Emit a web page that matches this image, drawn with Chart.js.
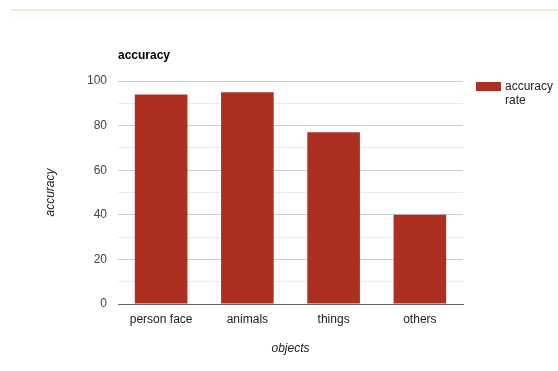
<!DOCTYPE html>
<html>
<head>
<meta charset="utf-8">
<script src="https://cdn.jsdelivr.net/npm/chart.js@4.4.1/dist/chart.umd.min.js"></script>
<style>
  html, body { margin: 0; padding: 0; background: #fff; }
  #wrap { position: relative; width: 558px; height: 371px; }
  #band { position: absolute; left: 11px; right: 0; top: 9px; height: 2px; background: #f3e9da; }
  #haze { position: absolute; left: 11px; right: 0; top: 11px; height: 12px;
          background: linear-gradient(#fcfaf5, #ffffff); }
  canvas { position: absolute; left: 0; top: 0; }
</style>
</head>
<body>
<div id="wrap">
  <div id="band"></div>
  <div id="haze"></div>
  <canvas id="c" width="558" height="371"></canvas>
</div>
<script>
const categories = ['person face', 'animals', 'things', 'others'];
const accuracyRate = [94, 95, 77, 40];
const yTicks = [0, 20, 40, 60, 80, 100];

const chartTitle = 'accuracy';
const seriesLabel = 'accuracy rate';
const barColor = '#ad2f22';
const FONT = '"Liberation Sans", Arial, sans-serif';

// Left-aligned chart title over the plot area
const titlePlugin = {
  id: 'plotTitle',
  afterDraw(chart) {
    const { ctx, chartArea } = chart;
    ctx.save();
    ctx.font = 'bold 12px ' + FONT;
    ctx.fillStyle = '#000';
    ctx.textAlign = 'left';
    ctx.textBaseline = 'middle';
    ctx.fillText(chartTitle, chartArea.left, 56);
    ctx.restore();
  }
};

// Right-hand legend with word-wrapped label
const sideLegend = {
  id: 'sideLegend',
  afterDraw(chart) {
    const { ctx, chartArea } = chart;
    const x = chartArea.right + 13;
    const y = chartArea.top + 1;
    ctx.save();
    chart.data.datasets.forEach((ds, i) => {
      ctx.fillStyle = ds.backgroundColor;
      ctx.fillRect(x, y, 25, 9);
      ctx.font = '12px ' + FONT;
      ctx.fillStyle = '#222';
      ctx.textAlign = 'left';
      ctx.textBaseline = 'middle';
      const words = ds.label.split(' ');
      const lines = [];
      let cur = '';
      words.forEach(w => {
        const t = cur ? cur + ' ' + w : w;
        if (cur && ctx.measureText(t).width > 50) { lines.push(cur); cur = w; }
        else cur = t;
      });
      if (cur) lines.push(cur);
      lines.forEach((ln, k) => ctx.fillText(ln, x + 29, y + 5 + k * 14));
    });
    ctx.restore();
  }
};

new Chart(document.getElementById('c'), {
  type: 'bar',
  data: {
    labels: categories,
    datasets: [{
      label: seriesLabel,
      data: accuracyRate,
      backgroundColor: barColor,
      borderWidth: 0,
      categoryPercentage: 1.0,
      barPercentage: 0.61
    }]
  },
  options: {
    responsive: false,
    animation: false,
    layout: { padding: { left: 0, right: 95, top: 81, bottom: 0 } },
    plugins: {
      legend: { display: false },
      title: { display: false },
      tooltip: { enabled: false }
    },
    scales: {
      x: {
        grid: { display: false, drawTicks: false },
        border: { display: true, color: '#666', width: 1 },
        ticks: { padding: 8, color: '#222', font: { family: FONT, size: 12 }, maxRotation: 0 },
        title: {
          display: true, text: 'objects', color: '#222',
          font: { family: FONT, size: 12, style: 'italic' },
          padding: { top: 0, bottom: 15 }
        },
        afterFit(scale) { scale.height = 67; }
      },
      y: {
        min: 0, max: 100,
        grid: {
          drawTicks: false,
          color: c => (c.tick && c.tick.value % 20 === 0) ? '#cccccc' : '#ececec',
          lineWidth: 1
        },
        border: { display: false },
        ticks: {
          stepSize: 10, autoSkip: false, padding: 11, color: '#444',
          font: { family: FONT, size: 12 },
          callback: v => yTicks.includes(v) ? String(v) : ''
        },
        title: {
          display: true, text: 'accuracy', color: '#222',
          font: { family: FONT, size: 12, style: 'italic' },
          padding: { top: 43, bottom: 0 }
        },
        afterFit(scale) { scale.width = 118; }
      }
    }
  },
  plugins: [titlePlugin, sideLegend]
});
</script>
</body>
</html>
